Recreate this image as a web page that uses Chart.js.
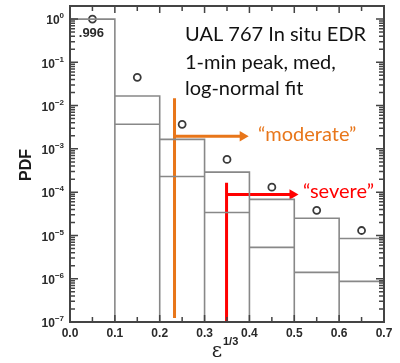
<!DOCTYPE html>
<html>
<head>
<meta charset="utf-8">
<script src="https://cdn.jsdelivr.net/npm/chart.js@4/dist/chart.umd.min.js"></script>
<style>
  html, body { margin: 0; padding: 0; background: #fff; }
  #wrap { width: 400px; height: 363px; }
</style>
</head>
<body>
<div id="wrap"><canvas id="pdf"></canvas></div>
<script>
// histogram bins of eps^(1/3)
const binEdges = [0.0, 0.1, 0.2, 0.3, 0.4, 0.5, 0.6, 0.7]
const binCenters = [0.05, 0.15, 0.25, 0.35, 0.45, 0.55, 0.65]
// outer (peak) and inner (median) histogram heights
const peakPdf = [0.996, 0.0166, 0.00166, 2.9e-4, 6.8e-5, 2.5e-5, 8.5e-6]
const medPdf = [null, 0.0037, 2.3e-4, 3.4e-5, 5.3e-6, 1.4e-6, 8.7e-7]
// log-normal fit (open circles)
const fitPdf = [0.996, 0.045, 0.0037, 5.7e-4, 1.3e-4, 3.8e-5, 1.3e-5]
const xTicks = [0.0, 0.1, 0.2, 0.3, 0.4, 0.5, 0.6, 0.7]
const yDecades = [0, -1, -2, -3, -4, -5, -6, -7]

// threshold markers: x, top, bottom, arrow level, arrow end
const moderate = { x: 0.233, top: 0.0148, bottom: 1.24e-7, arrowY: 1.95e-3, arrowEnd: 0.385, label: "\u201cmoderate\u201d" }
const severe = { x: 0.349, top: 1.66e-4, bottom: 1e-7, arrowY: 8.8e-5, arrowEnd: 0.496, label: "\u201csevere\u201d" }

const YMIN = 1e-7, YMAX = 2.0
const ORANGE = "#e8761a", RED = "#ff0000", BARC = "#888", AXC = "#444"

// rectangles for the outer bars
const outline = []
peakPdf.forEach((v, i) => {
	outline.push({ x: binEdges[i], y: YMIN })
	outline.push({ x: binEdges[i], y: v })
	outline.push({ x: binEdges[i + 1], y: v })
	outline.push({ x: binEdges[i + 1], y: YMIN })
})
// level lines for the inner bars
const inner = []
medPdf.forEach((v, i) => {
	if (v == null) return
	inner.push({ x: binEdges[i], y: v })
	inner.push({ x: binEdges[i + 1], y: v })
	inner.push({ x: binEdges[i + 1], y: null })
})

const marker = (m, color) => [
	{
		data: [{ x: m.x, y: m.top }, { x: m.x, y: m.bottom }],
		showLine: true, borderColor: color, borderWidth: 3, pointRadius: 0,
	},
	{
		data: [{ x: m.x, y: m.arrowY }, { x: m.arrowEnd, y: m.arrowY }],
		showLine: true, borderColor: color, backgroundColor: color, borderWidth: 3,
		pointRadius: [0, 6], pointStyle: "triangle", rotation: 90, pointBorderWidth: 0,
	},
]

const frame = {
	id: "frame",
	afterDraw(chart) {
		const c = chart.ctx, a = chart.chartArea
		const xs = chart.scales.x, ys = chart.scales.y
		const L = a.left, R = a.right, T = a.top, B = a.bottom
		c.save()
		c.strokeStyle = AXC
		c.lineWidth = 1.5
		// inside ticks: x every 0.05, y at 1..9 x 10^d
		c.beginPath()
		for (let k = 0; k <= 14; k++) {
			const px = xs.getPixelForValue(k * 0.05)
			const len = k % 2 ? 5 : 7
			c.moveTo(px, B)
			c.lineTo(px, B - len)
			c.moveTo(px, T)
			c.lineTo(px, T + len)
		}
		for (let d = -7; d <= 0; d++) {
			for (let m = 1; m <= 9; m++) {
				const py = ys.getPixelForValue(m * Math.pow(10, d))
				if (py < T - 0.5 || py > B + 0.5) continue
				const len = m === 1 ? 8 : 5
				c.moveTo(L, py)
				c.lineTo(L + len, py)
				c.moveTo(R, py)
				c.lineTo(R - len, py)
			}
		}
		c.stroke()
		c.lineWidth = 2
		c.strokeRect(L, T, R - L, B - T)

		// y tick labels 10^n
		c.fillStyle = "#2a2a2a"
		c.textBaseline = "middle"
		yDecades.forEach(d => {
			const py = ys.getPixelForValue(Math.pow(10, d)) + 2
			c.font = "bold 8px 'Liberation Sans'"
			c.textAlign = "left"
			const ex = String(d).replace("-", "\u2212")
			const ew = c.measureText(ex).width
			c.fillText(ex, L - 6 - ew, py - 5)
			c.font = "bold 12px 'Liberation Sans'"
			c.textAlign = "right"
			c.fillText("10", L - 6 - ew, py)
		})

		// axis titles
		c.save()
		c.translate(27, 165)
		c.rotate(-Math.PI / 2)
		c.font = "bold 16px 'Liberation Sans'"
		c.textAlign = "center"
		c.fillStyle = "#1a1a1a"
		c.fillText("PDF", 0, 0)
		c.restore()
		c.fillStyle = "#222"
		c.textAlign = "center"
		c.font = "20px 'DejaVu Serif'"
		c.fillText("\u03b5", 217, 352)
		c.font = "bold 11px 'Liberation Sans'"
		c.textAlign = "left"
		c.fillText("1/3", 223, 342)

		// .996 label
		c.font = "bold 13px 'Liberation Sans'"
		c.textAlign = "center"
		c.fillStyle = "#2a2a2a"
		c.fillText(".996", xs.getPixelForValue(binCenters[0]) - 1, ys.getPixelForValue(fitPdf[0]) + 14)

		// annotation texts
		c.font = "20px Lato"
		c.textAlign = "left"
		c.fillStyle = "#111"
		c.fillText("UAL 767 In situ EDR", 185, 35)
		c.fillText("1-min peak, med,", 185, 63)
		c.fillText("log-normal fit", 185, 89)
		c.fillStyle = ORANGE
		c.fillText(moderate.label, 258, ys.getPixelForValue(moderate.arrowY) - 2)
		c.fillStyle = RED
		c.fillText(severe.label, 303, ys.getPixelForValue(severe.arrowY) - 3)
		c.restore()
	},
}

new Chart(document.getElementById("pdf"), {
	type: "scatter",
	data: {
		datasets: [
			{ data: outline, showLine: true, borderColor: BARC, borderWidth: 1.6, pointRadius: 0, backgroundColor: "transparent" },
			{ data: inner, showLine: true, spanGaps: false, borderColor: BARC, borderWidth: 1.6, pointRadius: 0 },
			{
				data: binCenters.map((x, i) => ({ x, y: fitPdf[i] })),
				showLine: false, pointRadius: 3.5, pointBorderWidth: 1.8,
				pointBorderColor: "#3a3a3a", pointBackgroundColor: "#fff",
			},
			...marker(moderate, ORANGE),
			...marker(severe, RED),
		],
	},
	options: {
		responsive: true,
		maintainAspectRatio: false,
		animation: false,
		layout: { padding: { top: 6, right: 16, left: 0, bottom: 0 } },
		plugins: { legend: { display: false }, tooltip: { enabled: false } },
		scales: {
			x: {
				type: "linear", min: 0, max: 0.7,
				grid: { display: false, drawTicks: false },
				border: { display: false },
				afterBuildTicks: s => { s.ticks = xTicks.map(v => ({ value: v })) },
				afterFit: s => { s.height = 41 },
				ticks: {
					padding: 4,
					color: "#2a2a2a",
					font: { family: "Liberation Sans", weight: "bold", size: 12 },
					callback: v => v.toFixed(1),
				},
			},
			y: {
				type: "logarithmic", min: YMIN, max: YMAX,
				grid: { display: false, drawTicks: false },
				border: { display: false },
				ticks: { display: false },
				afterFit: s => { s.width = 70 },
			},
		},
	},
	plugins: [frame],
})
</script>
</body>
</html>
